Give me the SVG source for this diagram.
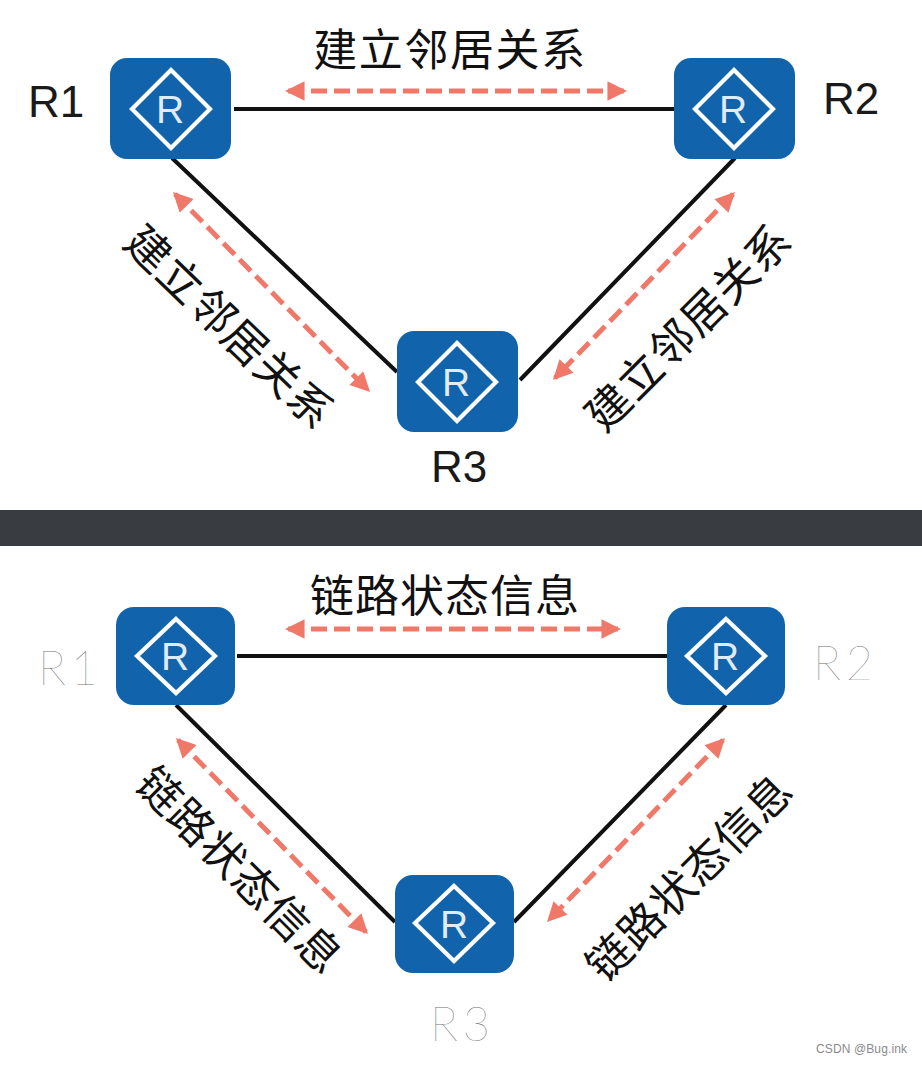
<svg xmlns="http://www.w3.org/2000/svg" width="922" height="1065" viewBox="0 0 922 1065">
<style>
.box{fill:#1164AC}
.dia{fill:none;stroke:#fff;stroke-width:4.2}
.r{font-family:"Liberation Sans",Arial,sans-serif;font-size:39px;fill:#fff;fill-opacity:.88;text-anchor:middle}
.link{stroke:#111;stroke-width:4;fill:none}
.arr{stroke:#F07869;stroke-width:5;stroke-dasharray:16 7;fill:none;marker-start:url(#ah);marker-end:url(#ah)}
.cn{font-family:"Noto Sans CJK SC","Liberation Sans",sans-serif;font-size:44px;fill:#111;text-anchor:middle;letter-spacing:1px}
.wide{letter-spacing:1.6px}
.dk{font-family:"Liberation Sans",Arial,sans-serif;font-size:44px;fill:#1a1a1a}
.lt{font-family:Lato,"Open Sans",sans-serif;font-weight:100;font-size:47px;fill:#6f6f6f;letter-spacing:5px}
.wm{font-family:"Liberation Sans",Arial,sans-serif;font-size:12px;fill:#8a8a8a;letter-spacing:.12px}
</style>
<defs>
<marker id="ah" viewBox="0 0 10 10" refX="8.5" refY="5" markerWidth="4.4" markerHeight="3.9" orient="auto-start-reverse"><path d="M0 0L10 5L0 10Z" fill="#F07869"/></marker>
</defs>
<rect width="922" height="1065" fill="#fff"/>
<rect id="band" x="0" y="510" width="922" height="36" fill="#393D41"/>
<g id="connectors">
<path class="link" d="M234 109H674M172 158L397 372M735 158L520 380M237 656H667M176 705L395 922M726 705L514 922"/>
<path class="arr" d="M288 91H624"/>
<path class="arr" d="M175 194L368 390"/>
<path class="arr" d="M733 194L555 378"/>
<path class="arr" d="M288 629H618"/>
<path class="arr" d="M178 740L366 932"/>
<path class="arr" d="M723 740L549 920"/>
</g>
<g id="t-r1"><rect class="box" x="110" y="58" width="121" height="101" rx="17"/><polygon class="dia" points="171,70 210,109 171,148 132,109"/><text class="r" x="170" y="123">R</text></g>
<g id="t-r2"><rect class="box" x="674" y="58" width="121" height="101" rx="17"/><polygon class="dia" points="734,70 773,109 734,148 695,109"/><text class="r" x="733" y="123">R</text></g>
<g id="t-r3"><rect class="box" x="397" y="331" width="121" height="101" rx="17"/><polygon class="dia" points="457,343 496,382 457,421 418,382"/><text class="r" x="456" y="396">R</text></g>
<g id="b-r1"><rect class="box" x="116" y="607" width="119" height="98" rx="18"/><polygon class="dia" points="176,619 215,656 176,693 137,656"/><text class="r" x="175" y="670">R</text></g>
<g id="b-r2"><rect class="box" x="667" y="607" width="118" height="98" rx="18"/><polygon class="dia" points="726,619 765,656 726,693 687,656"/><text class="r" x="725" y="670">R</text></g>
<g id="b-r3"><rect class="box" x="395" y="875" width="119" height="98" rx="18"/><polygon class="dia" points="454,886 493,923 454,961 415,923"/><text class="r" x="454" y="938">R</text></g>
<g id="labels">
<text class="dk" x="28" y="117">R1</text>
<text class="dk" x="823" y="114">R2</text>
<text class="dk" x="431" y="482">R3</text>
<text class="lt" x="38" y="685">R1</text>
<text class="lt" x="813" y="680">R2</text>
<text class="lt" x="430" y="1041">R3</text>
<text class="cn wide" x="450" y="66">建立邻居关系</text>
<text class="cn" transform="translate(229 328) rotate(44)" y="15">建立邻居关系</text>
<text class="cn" transform="translate(689 328) rotate(-45)" y="15">建立邻居关系</text>
<text class="cn" x="445" y="612">链路状态信息</text>
<text class="cn" transform="translate(239 871) rotate(45)" y="15">链路状态信息</text>
<text class="cn" transform="translate(690 878) rotate(-45)" y="15">链路状态信息</text>
<text class="wm" x="816" y="1053">CSDN @Bug.ink</text>
</g>
</svg>
